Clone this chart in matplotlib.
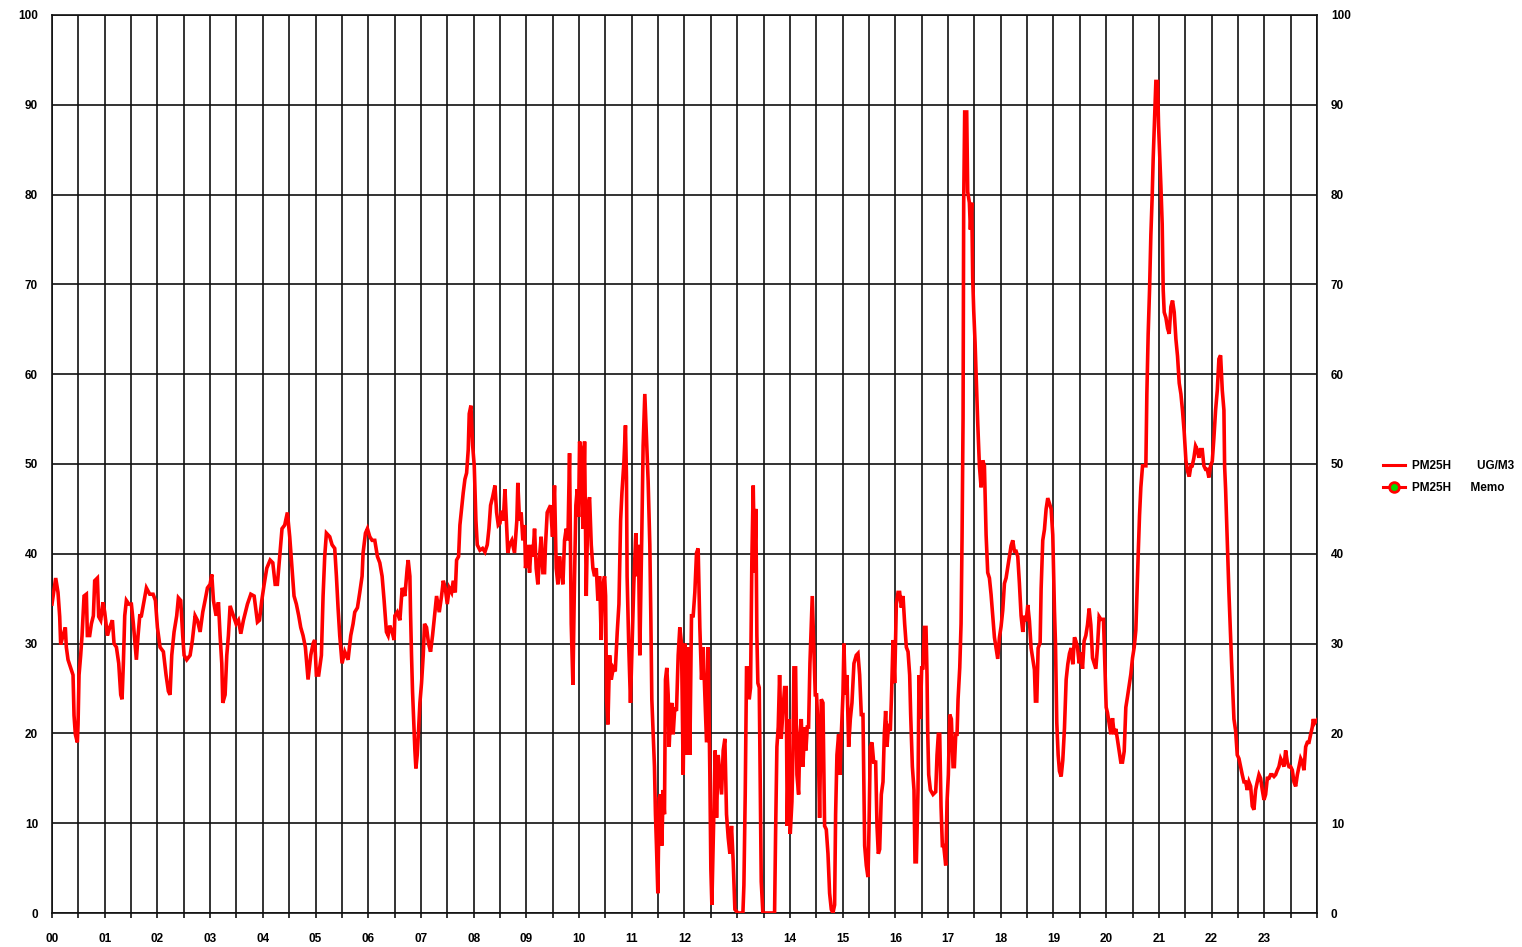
import matplotlib
matplotlib.use("Agg")
import matplotlib.pyplot as plt
from matplotlib.lines import Line2D
from matplotlib.ticker import MultipleLocator

plt.rcParams['font.family'] = ['Liberation Sans', 'DejaVu Sans']
plt.rcParams['font.weight'] = 'bold'

# time of day (hours) and PM2.5 concentration (UG/M3)
hours = [
 0.0, 0.07, 0.114, 0.146, 0.165, 0.209, 0.253, 0.272, 0.304, 0.354, 0.399, 0.418, 0.443, 0.481, 0.494,
 0.513, 0.544, 0.57, 0.608, 0.652, 0.671, 0.715, 0.747, 0.785, 0.81, 0.861, 0.886, 0.924, 0.968, 1.0,
 1.051, 1.095, 1.146, 1.177, 1.222, 1.266, 1.304, 1.329, 1.354, 1.38, 1.411, 1.456, 1.506, 1.544, 1.601,
 1.633, 1.665, 1.696, 1.747, 1.791, 1.854, 1.918, 1.962, 2.0,
 2.05, 2.113, 2.164, 2.208, 2.24, 2.272, 2.316, 2.366, 2.398, 2.442, 2.48, 2.506, 2.556, 2.62, 2.664,
 2.715, 2.759, 2.81, 2.86, 2.904, 2.949, 2.999, 3.031, 3.063, 3.113, 3.158, 3.189, 3.221, 3.24, 3.284,
 3.316, 3.347, 3.379, 3.442, 3.493, 3.537, 3.582, 3.632, 3.708, 3.772, 3.835, 3.898, 3.936, 3.98, 4.025,
 4.075, 4.139, 4.189, 4.234,
 4.276, 4.32, 4.364, 4.415, 4.466, 4.51, 4.554, 4.592, 4.636, 4.681, 4.719, 4.763, 4.807, 4.858, 4.909,
 4.953, 4.984, 5.016, 5.06, 5.111, 5.143, 5.174, 5.206, 5.269, 5.314, 5.364, 5.396, 5.427, 5.459, 5.503,
 5.554, 5.617, 5.668, 5.712, 5.744, 5.795, 5.839, 5.883, 5.902, 5.947, 5.984, 6.029, 6.073, 6.124, 6.174,
 6.219, 6.263, 6.301, 6.345, 6.377, 6.409, 6.453, 6.491,
 6.505, 6.549, 6.6, 6.644, 6.695, 6.739, 6.758, 6.79, 6.802, 6.821, 6.84, 6.866, 6.885, 6.904, 6.929,
 6.954, 6.98, 7.011, 7.043, 7.068, 7.106, 7.144, 7.182, 7.22, 7.258, 7.296, 7.347, 7.391, 7.423, 7.461,
 7.499, 7.537, 7.581, 7.613, 7.651, 7.676, 7.714, 7.739, 7.771, 7.802, 7.834, 7.866, 7.897, 7.916, 7.948,
 7.98, 8.011, 8.043, 8.068, 8.119, 8.169, 8.214, 8.258, 8.29, 8.321, 8.359, 8.404, 8.435, 8.467, 8.499,
 8.53, 8.562, 8.594, 8.625,
 8.648, 8.68, 8.724, 8.775, 8.819, 8.838, 8.87, 8.901, 8.933, 8.965, 8.984, 9.028, 9.06, 9.091, 9.123,
 9.155, 9.186, 9.218, 9.25, 9.281, 9.313, 9.345, 9.363, 9.395, 9.427, 9.458, 9.496, 9.534, 9.566, 9.598,
 9.629, 9.661, 9.693, 9.724, 9.756, 9.788, 9.819, 9.851, 9.883, 9.914, 9.939, 9.965, 9.99, 10.009, 10.041,
 10.072, 10.104, 10.136, 10.167, 10.199, 10.231, 10.262, 10.294, 10.326, 10.357, 10.389, 10.42, 10.452,
 10.484, 10.503, 10.522, 10.547, 10.579, 10.611, 10.648, 10.686, 10.724, 10.756, 10.788, 10.813, 10.851,
 10.88, 10.899, 10.911, 10.943, 10.975, 11.013, 11.038, 11.076, 11.101, 11.127, 11.152, 11.171, 11.19,
 11.215, 11.247, 11.278, 11.31, 11.342, 11.361, 11.38, 11.405, 11.43, 11.449, 11.468, 11.494, 11.519,
 11.544, 11.57, 11.595, 11.62, 11.639, 11.664, 11.69, 11.709, 11.734, 11.759, 11.785, 11.816, 11.848,
 11.88, 11.911, 11.943, 11.975, 12.006, 12.038, 12.07, 12.101, 12.133, 12.165, 12.196, 12.228, 12.259,
 12.291, 12.323, 12.354, 12.386, 12.418, 12.449, 12.481, 12.5, 12.519, 12.557, 12.582, 12.608, 12.639,
 12.671, 12.703, 12.734, 12.766, 12.797, 12.829, 12.861, 12.892, 12.924, 12.956,
 13.013, 13.108, 13.127, 13.152, 13.177, 13.203, 13.228, 13.253, 13.278, 13.304, 13.329, 13.354, 13.373,
 13.392, 13.418, 13.437, 13.456, 13.487, 13.709, 13.728, 13.753, 13.778, 13.804, 13.835, 13.867, 13.899,
 13.93, 13.949, 13.981, 14.006, 14.038, 14.057, 14.076, 14.108, 14.133, 14.165, 14.19, 14.215, 14.247,
 14.278, 14.304, 14.329, 14.354, 14.38, 14.405, 14.424, 14.449, 14.481, 14.506, 14.532, 14.563, 14.595,
 14.627, 14.658, 14.69, 14.722, 14.753, 14.785, 14.816, 14.848, 14.867, 14.892, 14.924, 14.949, 14.975,
 15.006, 15.025, 15.051, 15.082, 15.114, 15.146, 15.177, 15.215,
 15.259, 15.291, 15.323, 15.354, 15.386, 15.418, 15.449, 15.481, 15.5, 15.525, 15.557, 15.589, 15.627,
 15.652, 15.677, 15.703, 15.734, 15.766, 15.791, 15.816, 15.842, 15.867, 15.905, 15.93, 15.956, 15.987,
 16.019, 16.051, 16.082, 16.114, 16.146, 16.177, 16.209, 16.241, 16.272, 16.291, 16.323, 16.354, 16.373,
 16.399, 16.43, 16.449, 16.475, 16.5, 16.525, 16.551, 16.582, 16.601, 16.614, 16.633, 16.665, 16.715,
 16.766, 16.791, 16.816, 16.842, 16.867, 16.892, 16.918, 16.956, 16.981, 17.006, 17.032, 17.063, 17.095,
 17.12, 17.146, 17.171, 17.19, 17.222, 17.247, 17.266, 17.285,
 17.297, 17.316, 17.354, 17.373, 17.405, 17.424, 17.449, 17.468, 17.487, 17.513, 17.532, 17.563, 17.595,
 17.627, 17.658, 17.69, 17.722, 17.753, 17.785, 17.816, 17.848, 17.88, 17.911, 17.943, 17.975, 18.006,
 18.038, 18.07, 18.101, 18.133, 18.165, 18.196, 18.228, 18.259, 18.291, 18.323, 18.354, 18.386, 18.418,
 18.449, 18.481, 18.513, 18.544, 18.576, 18.608, 18.639, 18.658, 18.684, 18.709, 18.747, 18.766, 18.797,
 18.829, 18.861, 18.892, 18.924, 18.956, 18.987, 19.019, 19.038, 19.063, 19.089, 19.114, 19.146, 19.177,
 19.209, 19.241, 19.272, 19.304, 19.335, 19.367, 19.399,
 19.424, 19.456, 19.487, 19.519, 19.551, 19.582, 19.614, 19.646, 19.677, 19.709, 19.741, 19.772, 19.804,
 19.835, 19.867, 19.899, 19.949, 19.975, 20.0, 20.025, 20.057, 20.089, 20.12, 20.152, 20.184, 20.215,
 20.247, 20.278, 20.31, 20.342, 20.373, 20.405, 20.437, 20.468, 20.5, 20.532, 20.563, 20.582, 20.608,
 20.633, 20.658, 20.69, 20.722, 20.753, 20.772, 20.797, 20.823, 20.848, 20.873, 20.892, 20.911, 20.93,
 20.943, 20.975, 20.994, 21.019, 21.038, 21.063, 21.082, 21.101, 21.133, 21.165, 21.196, 21.228, 21.259,
 21.291, 21.323, 21.354, 21.386, 21.418, 21.449, 21.481, 21.513, 21.544, 21.576, 21.608,
 21.633, 21.665, 21.696, 21.728, 21.759, 21.791, 21.823, 21.854, 21.886, 21.918, 21.949, 21.981, 22.013,
 22.044, 22.076, 22.108, 22.139, 22.171, 22.203, 22.234, 22.247, 22.266, 22.285, 22.304, 22.329, 22.354,
 22.38, 22.405, 22.424, 22.456, 22.487, 22.519, 22.551, 22.582, 22.614, 22.646, 22.677, 22.709, 22.741,
 22.772, 22.804, 22.835, 22.867, 22.899, 22.93, 22.962, 22.994, 23.025, 23.057, 23.089, 23.12, 23.152,
 23.184, 23.215, 23.247, 23.278, 23.31, 23.342, 23.373, 23.405, 23.437, 23.468, 23.5, 23.532, 23.563,
 23.595, 23.627, 23.658, 23.69, 23.722, 23.753, 23.785, 23.816, 23.848, 23.88, 23.911, 23.93, 23.949, 24.0,
]

pm25 = [
 34.4, 37.3, 35.7, 33.0, 29.9, 30.9, 31.8, 29.6, 28.2, 27.3, 26.5, 22.0, 19.9, 19.0, 21.0,
 26.5, 28.7, 30.9, 35.3, 35.5, 30.9, 30.9, 32.2, 33.1, 37.0, 37.3, 33.0, 32.6, 34.6, 33.5,
 30.9, 31.8, 32.6, 30.0, 29.6, 27.8, 24.3, 23.8, 27.8, 33.1, 34.8, 34.4, 34.4, 32.2, 28.2,
 30.9, 33.1, 33.1, 34.8, 36.2, 35.5, 35.5, 34.8, 31.8,
 29.6, 29.1, 26.5, 24.7, 24.3, 28.7, 31.3, 33.1, 35.1, 34.8, 30.9, 28.7, 28.2, 28.7, 30.4,
 33.1, 32.6, 31.3, 33.5, 34.8, 36.2, 36.6, 37.7, 34.8, 33.1, 34.6, 30.9, 27.8, 23.4, 24.3,
 28.7, 30.9, 34.2, 33.1, 32.2, 32.6, 31.1, 32.6, 34.4, 35.5, 35.3, 32.4, 32.6, 34.8, 36.6,
 38.4, 39.3, 39.0, 36.6,
 36.6, 39.7, 42.8, 43.2, 44.6, 41.9, 38.4, 35.3, 34.4, 33.1, 31.8, 30.9, 29.6, 26.0, 28.7,
 30.0, 30.4, 26.5, 26.5, 28.7, 35.3, 39.7, 42.3, 41.9, 41.0, 40.6, 37.5, 34.0, 30.9, 27.8,
 29.1, 28.2, 30.9, 32.2, 33.5, 34.0, 35.7, 37.5, 40.1, 42.3, 42.8, 41.9, 41.5, 41.5, 39.7,
 39.0, 37.5, 34.8, 31.3, 30.9, 32.0, 31.3, 30.4,
 33.1, 33.5, 32.6, 36.2, 35.3, 38.4, 39.3, 37.5, 33.5, 28.7, 24.7, 20.7, 18.1, 16.1, 17.6,
 20.3, 23.4, 25.6, 28.7, 32.2, 31.8, 30.0, 29.1, 30.9, 33.1, 35.3, 33.5, 35.3, 37.0, 36.2,
 34.4, 36.2, 35.7, 37.0, 35.7, 39.3, 39.7, 43.2, 45.0, 46.8, 48.3, 49.0, 51.6, 55.6, 56.5,
 52.1, 49.8, 43.7, 41.0, 40.4, 40.6, 40.2, 41.0, 42.8, 45.4, 46.3, 47.6, 44.6, 43.2, 43.4,
 44.8, 43.7, 47.2, 43.2,
 40.1, 41.0, 41.5, 40.1, 43.7, 47.9, 43.7, 44.6, 41.5, 43.2, 38.4, 41.0, 37.9, 41.0, 39.7,
 42.8, 38.4, 36.6, 39.7, 41.9, 37.9, 37.9, 41.0, 44.6, 45.0, 45.4, 41.9, 47.6, 38.4, 36.6,
 39.7, 37.9, 36.6, 41.5, 42.8, 41.5, 51.2, 32.2, 25.4, 37.5, 45.4, 47.2, 44.1, 52.5, 51.6,
 42.8, 52.5, 35.3, 45.4, 46.3, 41.0, 38.4, 37.5, 38.4, 34.8, 37.5, 30.4, 36.6,
 37.5, 35.3, 23.8, 21.0, 28.7, 26.0, 27.3, 26.9, 31.3, 34.4, 43.7, 46.8, 50.3,
 54.3, 48.5, 37.5, 29.6, 23.4, 31.3, 36.6, 42.3, 37.5, 41.0, 28.7, 35.3, 42.3,
 52.0, 57.8, 52.9, 48.1, 41.0, 33.1, 23.8, 19.9, 16.3, 11.0, 7.5, 2.2, 12.8,
 13.2, 7.5, 13.7, 11.0, 26.0, 27.3, 24.3, 18.5, 22.1, 23.4, 19.9, 22.9, 22.5,
 28.7, 31.8, 30.0, 15.4, 30.0, 17.6, 29.6, 17.6, 33.1, 33.1, 35.7, 40.1, 40.6,
 31.8, 26.0, 29.6, 24.3, 19.0, 29.6, 15.4, 4.9, 0.9, 11.0, 18.1, 10.6, 17.6,
 15.4, 13.2, 18.1, 19.4, 11.0, 8.4, 6.6, 9.7, 5.7, 0.4,
 0.0, 0.0, 3.1, 13.2, 27.3, 27.3, 23.8, 25.1, 39.3, 47.6, 37.9, 45.0, 30.9,
 25.6, 25.1, 14.6, 3.5, 0.0, 0.0, 8.8, 18.5, 20.7, 26.5, 19.4, 22.5, 25.1,
 25.1, 9.7, 21.6, 8.8, 12.4, 17.6, 27.3, 27.3, 15.4, 13.2, 19.9, 21.6, 16.3,
 20.7, 18.1, 20.7, 20.7, 27.8, 32.2, 35.3, 30.4, 24.3, 24.3, 20.7, 10.6, 23.8,
 23.4, 9.7, 9.3, 6.6, 2.2, 0.4, 0.0, 0.9, 11.0, 17.6, 19.9, 15.4, 19.9,
 24.3, 30.0, 24.3, 26.5, 18.5, 21.6, 23.4, 27.8,
 28.7, 28.9, 26.5, 22.1, 22.1, 7.5, 5.3, 4.0, 9.3, 18.5, 19.0, 16.8, 16.8,
 9.7, 6.6, 7.1, 13.2, 14.6, 19.9, 22.5, 18.5, 20.7, 20.3, 24.7, 30.4, 25.6,
 34.4, 35.7, 35.7, 34.0, 35.3, 32.2, 29.6, 29.1, 26.5, 22.1, 16.3, 13.7, 5.7,
 5.7, 13.7, 26.5, 21.6, 27.3, 27.3, 31.8, 31.8, 26.5, 20.3, 15.4, 13.7, 13.2,
 13.5, 17.6, 19.9, 19.9, 11.9, 7.5, 7.5, 5.3, 12.4, 15.4, 22.1, 21.6, 16.3,
 16.3, 19.9, 19.9, 23.8, 27.3, 32.2, 41.9, 55.1,
 79.1, 89.2, 89.2, 80.3, 79.1, 76.1, 79.1, 70.7, 67.1, 63.5, 60.0, 54.6, 49.8,
 47.4, 50.4, 49.8, 42.1, 37.9, 37.3, 35.5, 33.1, 30.7, 29.5, 28.3, 30.7, 31.9,
 33.7, 36.7, 37.3, 38.5, 39.7, 40.9, 41.5, 40.3, 40.3, 39.7, 36.7, 33.1, 31.3,
 33.1, 32.5, 34.3, 32.5, 29.5, 28.3, 27.1, 23.6, 23.6, 29.5, 30.1, 36.1, 41.5,
 42.7, 45.0, 46.2, 45.6, 45.0, 42.1, 33.7, 30.1, 21.2, 17.6, 15.8, 15.2, 17.0,
 20.6, 26.0, 27.7, 28.9, 29.5, 27.7, 30.7,
 30.3, 29.6, 27.8, 29.0, 27.2, 30.3, 30.9, 32.1, 33.9, 32.1, 28.4, 27.8, 27.2,
 29.6, 33.0, 32.7, 32.7, 27.8, 22.9, 22.3, 21.1, 19.9, 21.7, 19.9, 20.5, 19.3,
 18.0, 16.8, 16.8, 18.0, 22.9, 24.1, 25.4, 26.6, 28.4, 29.6, 31.5, 35.1, 40.0,
 44.3, 47.4, 49.8, 49.8, 49.8, 57.8, 64.5, 69.4, 75.5, 79.8, 84.0, 87.1, 90.2,
 92.6, 92.6, 87.7, 84.0, 81.0, 76.7, 69.4, 66.9, 66.3, 65.1, 64.5, 67.5, 68.2,
 66.9, 63.9, 62.0, 59.0, 57.8, 55.9, 53.5, 50.4, 49.2, 48.6, 49.8,
 49.8, 50.7, 52.0, 51.6, 50.7, 51.6, 51.6, 49.8, 49.4, 49.4, 48.5, 49.8, 50.3,
 52.9, 56.0, 58.2, 61.7, 62.1, 58.2, 56.0, 49.8, 47.2, 43.7, 40.1, 35.7, 31.8,
 27.8, 24.3, 21.6, 20.3, 17.6, 17.2, 16.3, 15.4, 14.6, 14.6, 13.7, 14.6, 14.1,
 11.9, 11.5, 13.7, 14.6, 15.4, 15.0, 13.7, 12.6, 13.2, 15.0, 15.0, 15.4, 15.4,
 15.2, 15.4, 15.9, 16.3, 17.2, 16.8, 16.3, 18.1, 16.8, 16.3, 16.3, 15.9, 14.6,
 14.1, 15.4, 16.3, 17.2, 16.8, 15.9, 18.5, 19.0, 19.0, 19.9, 20.7, 21.6, 21.1, 21.5,
]

hour_labels = [f"{h:02d}" for h in range(24)]
y_ticks = list(range(0, 101, 10))
series_labels = ["PM25H        UG/M3", "PM25H      Memo"]

fig = plt.figure(figsize=(15.22, 9.47), dpi=100)
ax = fig.add_axes([52 / 1522, 1 - 913 / 947, (1317 - 52) / 1522, (913 - 15) / 947])

ax.plot(hours, pm25, color='#ff0000', linewidth=2.6, solid_joinstyle='miter', zorder=3)

ax.set_xlim(0, 24)
ax.set_ylim(0, 100)
ax.set_xticks(range(24))
ax.set_xticklabels(hour_labels)
ax.xaxis.set_minor_locator(MultipleLocator(0.5))
ax.set_yticks(y_ticks)

ax.grid(True, which='both', axis='x', color='#111111', linewidth=1.2, zorder=1)
ax.grid(True, which='major', axis='y', color='#111111', linewidth=1.2, zorder=1)
ax.tick_params(axis='x', which='both', direction='out', length=3.5, width=1.2, pad=11,
               color='#111111', labelsize=8.5)
ax.tick_params(axis='y', which='both', length=0, pad=10, labelright=True, right=False,
               labelsize=8.5)
for s in ax.spines.values():
    s.set_color('#111111')
    s.set_linewidth(1.2)

handles = [
    Line2D([], [], color='#ff0000', linewidth=2.2),
    Line2D([], [], color='#ff0000', linewidth=2.2, marker='o', markersize=7,
           markerfacecolor='#00dd00', markeredgecolor='#ff0000', markeredgewidth=2),
]
leg = fig.legend(handles, series_labels, loc='center left', bbox_to_anchor=(1378 / 1522, 1 - 477 / 947),
                 frameon=False, prop={'weight': 'bold', 'size': 8.5}, handlelength=1.9,
                 handletextpad=0.6, labelspacing=0.8, borderaxespad=0)

fig.savefig('out.png', dpi=100, facecolor='white')
